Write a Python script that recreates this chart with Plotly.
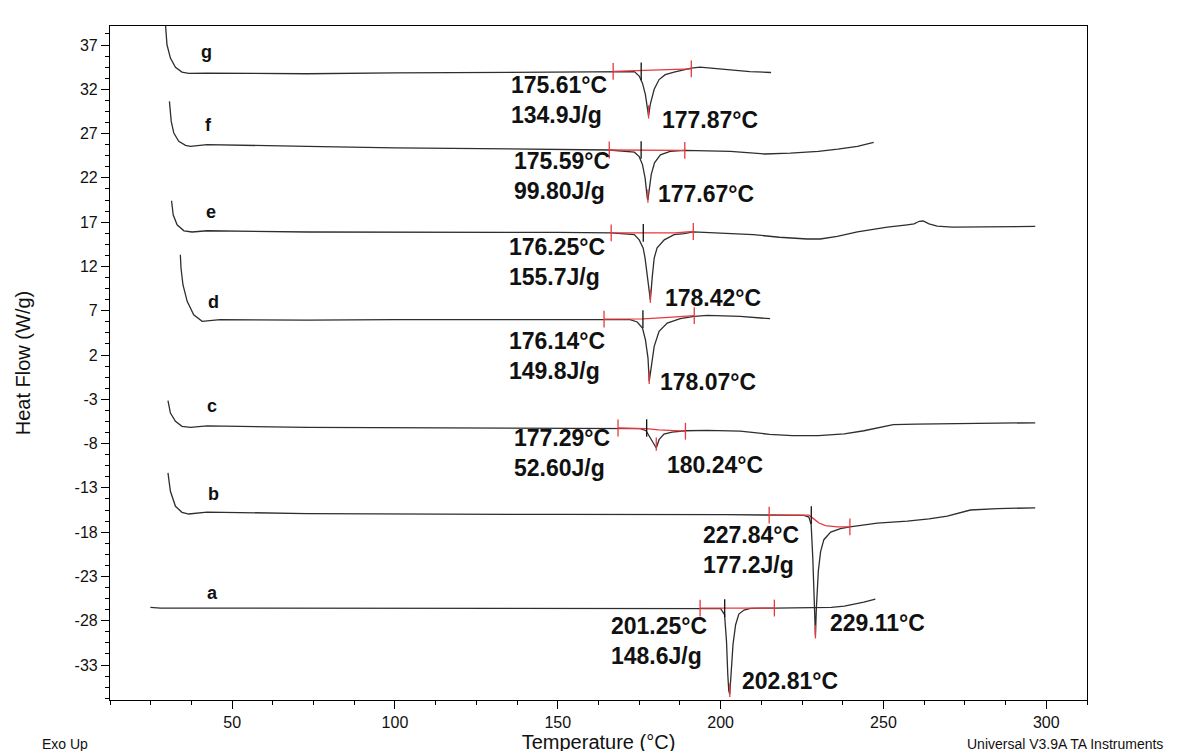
import plotly.graph_objects as go

# ---------------- data ----------------
temp_a = [24.9, 28.0, 50, 100, 150, 183.6, 193.8, 200.0, 201.2, 201.8, 202.2, 202.5, 202.8,
          203.2, 203.8, 204.6, 205.6, 207.2, 209.2, 216.5, 228.7, 234.0, 238.0, 241.0, 244.0, 247.5]
hf_a = [-26.49, -26.57, -26.57, -26.57, -26.57, -26.57, -26.57, -26.64, -27.3, -30.3, -34.1, -35.9, -36.3,
        -34.1, -30.7, -28.45, -27.25, -26.8, -26.6, -26.57, -26.55, -26.5, -26.35, -26.15, -25.9, -25.55]

temp_b = [30.3, 31.05, 32.6, 34.6, 36.7, 42.3, 73, 100, 150, 202, 214.9, 225.6, 227.1, 227.8, 228.3,
          228.8, 229.11, 229.4, 230.0, 230.7, 231.7, 233.8, 236.8, 239.7, 248.1, 257.3, 264.0, 269.6,
          273.0, 276.7, 285.0, 296.6]
hf_b = [-11.3, -13.39, -15.08, -15.76, -15.95, -15.73, -15.9, -15.95, -16.0, -16.03, -16.07, -16.1, -16.3,
        -17.15, -20.9, -26.6, -29.7, -26.6, -22.4, -20.2, -18.85, -18.0, -17.6, -17.4, -16.97, -16.75,
        -16.5, -16.2, -15.9, -15.5, -15.35, -15.25]

temp_c = [30.3, 31.05, 32.6, 34.6, 37.2, 42.3, 73, 100, 150, 168.5, 175.3, 177.1, 178.4, 180.24, 181.1,
          182.6, 185.1, 189.2, 195.9, 206.0, 215.0, 222.0, 230.0, 238.0, 244.0, 249.0, 253.0, 260.0,
          275.0, 296.6]
hf_c = [-3.16, -4.55, -5.49, -6.05, -6.16, -6.0, -6.16, -6.2, -6.22, -6.24, -6.32, -6.55, -7.37, -8.5,
        -7.56, -6.92, -6.7, -6.55, -6.5, -6.6, -6.95, -7.1, -7.1, -6.9, -6.55, -6.15, -5.85, -5.8,
        -5.75, -5.65]

temp_d = [34.1, 34.3, 34.9, 36.2, 38.2, 40.8, 46.3, 73, 100, 150, 164.2, 172.2, 174.4, 176.0, 176.9,
          177.7, 178.07, 178.7, 179.6, 181.1, 183.6, 187.6, 191.9, 195.9, 206.0, 215.2]
hf_d = [13.32, 11.82, 9.94, 8.06, 6.55, 5.8, 5.99, 5.95, 6.0, 6.05, 6.06, 5.99, 5.73, 5.05, 3.73,
        1.66, -0.97, 0.9, 2.98, 4.67, 5.61, 6.1, 6.37, 6.48, 6.37, 6.1]

temp_e = [31.4, 31.9, 33.1, 35.2, 37.7, 42.3, 73, 100, 150, 166.4, 173.5, 175.0, 176.2, 176.8, 177.6,
          178.42, 179.0, 179.6, 180.5, 182.7, 185.7, 188.8, 191.6, 200.0, 210.0, 218.0, 226.6, 230.6,
          235.8, 242.0, 251.2, 257.3, 259.4, 261.0, 262.2, 264.0, 266.5, 271.1, 288.0, 296.6]
hf_e = [19.42, 17.84, 16.71, 16.03, 15.89, 16.03, 15.89, 15.9, 15.85, 15.8, 15.6, 15.0, 14.1, 12.95,
        10.6, 8.2, 10.8, 12.95, 14.1, 15.0, 15.6, 15.7, 15.9, 15.8, 15.6, 15.3, 15.1, 15.1, 15.4, 15.9,
        16.45, 16.7, 16.8, 17.1, 17.13, 16.8, 16.55, 16.45, 16.45, 16.52]

temp_f = [30.75, 31.3, 32.1, 33.6, 35.7, 37.2, 42.3, 57.7, 73, 100, 150, 165.8, 173.5, 175.0, 176.0,
          176.8, 177.5, 177.67, 178.1, 178.7, 179.7, 181.5, 184.5, 189.0, 203.0, 213.4, 221.4, 230.0,
          236.0, 242.0, 247.0]
hf_f = [30.64, 28.38, 27.06, 26.13, 25.68, 25.56, 25.75, 25.68, 25.56, 25.4, 25.2, 25.15, 24.9, 24.4,
        23.5, 22.0, 19.7, 19.5, 20.7, 22.4, 23.7, 24.6, 25.0, 25.1, 25.0, 24.7, 24.8, 25.0, 25.25,
        25.56, 26.0]

temp_g = [29.3, 29.5, 30.0, 31.05, 32.6, 34.6, 36.7, 42.3, 73, 100, 150, 167.0, 173.5, 175.0, 176.0,
          176.9, 177.87, 178.4, 179.6, 181.1, 183.0, 185.7, 188.8, 191.0, 193.7, 198.0, 203.0, 209.0, 215.5]
hf_g = [40.5, 39.15, 37.03, 35.53, 34.48, 33.95, 33.8, 33.84, 33.76, 33.85, 34.0, 34.03, 34.0, 33.5,
        32.7, 31.4, 29.0, 30.3, 32.0, 33.1, 33.65, 33.95, 34.2, 34.4, 34.5, 34.4, 34.2, 34.0, 33.9]

# integration baselines (red)
base_t_a = [193.7, 216.5]
base_hf_a = [-26.57, -26.57]
base_t_b = [214.9, 227.1, 228.6, 230.2, 232.2, 235.8, 239.7]
base_hf_b = [-16.07, -16.07, -16.5, -16.97, -17.27, -17.4, -17.4]
base_t_c = [168.5, 177.1, 181.0, 185.0, 189.2]
base_hf_c = [-6.24, -6.3, -6.45, -6.55, -6.6]
base_t_d = [164.2, 176.2, 184.0, 191.9]
base_hf_d = [6.06, 6.08, 6.25, 6.45]
base_t_e = [166.4, 186.0, 191.6]
base_hf_e = [15.8, 15.8, 15.95]
base_t_f = [165.8, 189.0]
base_hf_f = [25.15, 25.1]
base_t_g = [167.0, 191.0]
base_hf_g = [34.03, 34.3]

curve_names = ["a", "b", "c", "d", "e", "f", "g"]
onset_temp = [201.25, 227.84, 177.29, 176.14, 176.25, 175.59, 175.61]
peak_temp = [202.81, 229.11, 180.24, 178.07, 178.42, 177.67, 177.87]
enthalpy = ["148.6J/g", "177.2J/g", "52.60J/g", "149.8J/g", "155.7J/g", "99.80J/g", "134.9J/g"]

x_tick_vals = [50, 100, 150, 200, 250, 300]
x_tick_text = ["50", "100", "150", "200", "250", "300"]
y_tick_vals = [37, 32, 27, 22, 17, 12, 7, 2, -3, -8, -13, -18, -23, -28, -33]
y_tick_text = ["37", "32", "27", "22", "17", "12", "7", "2", "-3", "-8", "-13", "-18", "-23", "-28", "-33"]

temps = [temp_a, temp_b, temp_c, temp_d, temp_e, temp_f, temp_g]
hfs = [hf_a, hf_b, hf_c, hf_d, hf_e, hf_f, hf_g]
base_ts = [base_t_a, base_t_b, base_t_c, base_t_d, base_t_e, base_t_f, base_t_g]
base_hfs = [base_hf_a, base_hf_b, base_hf_c, base_hf_d, base_hf_e, base_hf_f, base_hf_g]

# ---------------- layout helpers (pixel placement) ----------------
W, H = 1186, 751
L, R, T, B = 102, 1079, 18, 692


def px(x):
    return (x - L) / (R - L)


def py(y):
    return (B - y) / (B - T)


# label placement in pixels: (onset/enthalpy block x-left, block centre y, peak x-left, peak y)
label_pos = {
    "a": (601, 633, 732, 673),
    "b": (693, 542, 820, 615),
    "c": (504, 445, 657, 457),
    "d": (499, 348, 650, 374),
    "e": (499, 254, 655, 290),
    "f": (504, 168, 648, 186),
    "g": (501, 92, 652, 112),
}
letter_pos = {"a": (204, 585), "b": (205, 486), "c": (204, 398), "d": (205, 294),
              "e": (203, 204), "f": (200, 117), "g": (198, 44)}

CURVE = "#2e2e2e"
RED = "#e8383d"
FONT = "Liberation Sans, Arial, sans-serif"

fig = go.Figure()

for i, name in enumerate(curve_names):
    fig.add_trace(go.Scatter(x=temps[i], y=hfs[i], mode="lines",
                             line=dict(color=CURVE, width=1.3), name=name,
                             showlegend=False, hoverinfo="x+y"))

# red integration baselines + limit ticks, black onset ticks, red peak markers
rx, ry, kx, ky = [], [], [], []
for i, name in enumerate(curve_names):
    bt, bh = base_ts[i], base_hfs[i]
    rx += list(bt) + [None]
    ry += list(bh) + [None]
    for t_, h_ in ((bt[0], bh[0]), (bt[-1], bh[-1])):
        rx += [t_, t_, None]
        ry += [h_ + 0.95, h_ - 0.95, None]
    pk = min(hfs[i])
    rx += [peak_temp[i], peak_temp[i], None]
    ry += [pk + 1.2, pk - 0.3, None]
    kx += [onset_temp[i], onset_temp[i], None]
    ky += [bh[0] + 1.0, bh[0] - 1.0, None]

fig.add_trace(go.Scatter(x=rx, y=ry, mode="lines", line=dict(color=RED, width=1.3),
                         showlegend=False, hoverinfo="skip"))
fig.add_trace(go.Scatter(x=kx, y=ky, mode="lines", line=dict(color="#111111", width=1.3),
                         showlegend=False, hoverinfo="skip"))

ann = []
lab_font = dict(family=FONT, size=23, color="#111111")
for i, name in enumerate(curve_names):
    ox, oy, pxl, pyl = label_pos[name]
    ann.append(dict(x=px(ox), y=py(oy), xref="paper", yref="paper", xanchor="left", yanchor="middle",
                    align="left", text="<b>%.2f°C<br>%s</b>" % (onset_temp[i], enthalpy[i]),
                    showarrow=False, font=lab_font))
    ann.append(dict(x=px(pxl), y=py(pyl), xref="paper", yref="paper", xanchor="left", yanchor="middle",
                    text="<b>%.2f°C</b>" % peak_temp[i], showarrow=False, font=lab_font))
    lx, ly = letter_pos[name]
    ann.append(dict(x=px(lx), y=py(ly), xref="paper", yref="paper", xanchor="center", yanchor="middle",
                    text="<b>%s</b>" % name, showarrow=False,
                    font=dict(family=FONT, size=18, color="#111111")))

ann.append(dict(x=px(32), y=py(736), xref="paper", yref="paper", xanchor="left", yanchor="middle",
                text="Exo Up", showarrow=False, font=dict(family=FONT, size=14, color="#111111")))
ann.append(dict(x=px(957), y=py(736), xref="paper", yref="paper", xanchor="left", yanchor="middle",
                text="Universal V3.9A TA Instruments", showarrow=False,
                font=dict(family=FONT, size=14, color="#111111")))

axis_common = dict(showline=True, linecolor="black", linewidth=1.2, mirror=True, showgrid=False,
                   zeroline=False, ticks="outside", tickcolor="black", ticklen=8, tickwidth=1,
                   tickfont=dict(family=FONT, size=16, color="#111111"), automargin=False)

fig.update_layout(
    width=W, height=H,
    margin=dict(l=L, r=W - R, t=T, b=H - B),
    paper_bgcolor="white", plot_bgcolor="white",
    xaxis=dict(range=[12.5, 312.5], tickmode="array", tickvals=x_tick_vals, ticktext=x_tick_text,
               minor=dict(tickmode="linear", dtick=12.5, tick0=0, ticks="outside", ticklen=4,
                          tickcolor="black"),
               title=dict(text="Temperature (°C)", standoff=0,
                          font=dict(family=FONT, size=20, color="#111111")),
               **axis_common),
    yaxis=dict(range=[-36.95, 39.15], tickmode="array", tickvals=y_tick_vals, ticktext=y_tick_text,
               minor=dict(tickmode="linear", dtick=1.25, tick0=-33, ticks="outside", ticklen=4,
                          tickcolor="black"),
               title=dict(text="Heat Flow (W/g)", standoff=38,
                          font=dict(family=FONT, size=20, color="#111111")),
               **axis_common),
    annotations=ann,
)

fig.write_html("out.html")
